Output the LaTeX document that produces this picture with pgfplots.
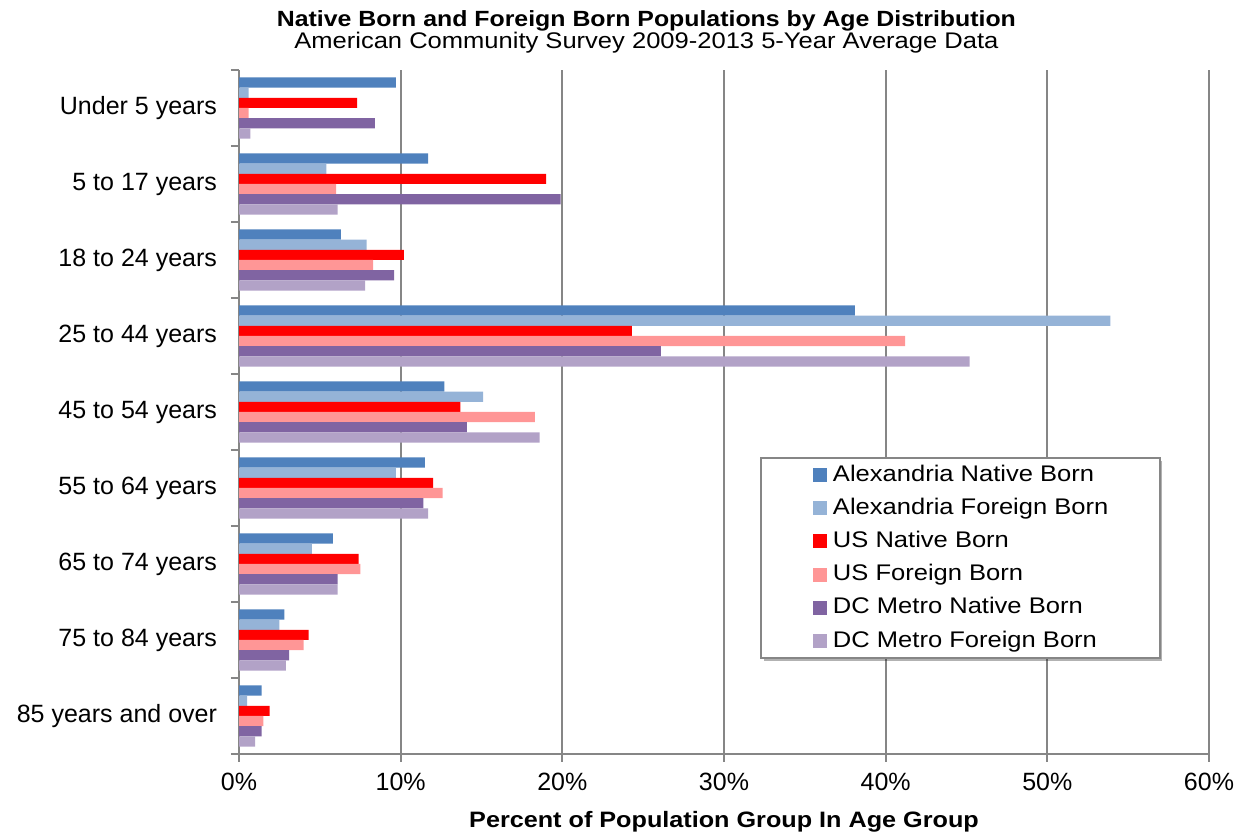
\documentclass[border=0pt]{standalone}
\usepackage{pgfplots}
\pgfplotsset{compat=1.18}
\usepackage{fontspec}
\setmainfont{Liberation Sans}
\newfontfamily\widefont{Liberation Sans}[FakeStretch=1.13]
\usetikzlibrary{shadows}
\definecolor{an}{RGB}{79,129,189}
\definecolor{af}{RGB}{149,179,215}
\definecolor{un}{RGB}{255,0,0}
\definecolor{uf}{RGB}{255,150,150}
\definecolor{dn}{RGB}{128,100,162}
\definecolor{df}{RGB}{178,162,199}
\definecolor{axgray}{RGB}{134,134,134}
\begin{document}
\begin{tikzpicture}
\pgfplotsset{bstyle/.style={draw=none, fill=#1,
  legend image code/.code={\fill[##1] (0pt,-3.5pt) rectangle (7pt,3.5pt);}}}
\begin{axis}[
  scale only axis, width=485pt, height=342pt,
  xbar, bar width=0.1338,
  xmin=0, xmax=60, ymin=-0.5, ymax=8.5,
  clip=false,
  axis x line*=bottom, axis y line*=left,
  axis line style={axgray, line width=1pt, -},
  xmajorgrids, grid style={axgray, line width=1pt},
  xtick={0,10,...,60},
  xticklabels={0\%,10\%,20\%,30\%,40\%,50\%,60\%},
  ytick={-0.5,0.5,...,8.5},
  y tick label as interval,
  yticklabels={85 years and over,75 to 84 years,65 to 74 years,55 to 64 years,45 to 54 years,25 to 44 years,18 to 24 years,5 to 17 years,Under 5 years},
  tick align=outside,
  major tick length=4pt,
  tick style={axgray, line width=1pt},
  ticklabel style={font=\fontsize{12.5}{15}\selectfont, text=black},
  yticklabel style={xshift=-3.5pt},
  xticklabel style={yshift=-2pt},
  legend cell align=left,
  legend style={at={(0.5371,0.4342)}, anchor=north west,
    draw=axgray, line width=1pt, fill=white,
    inner xsep=26pt, inner ysep=2.5pt, row sep=4.6pt, column sep=3pt,
    nodes={font=\widefont\fontsize{11.3}{14}\selectfont, inner sep=0pt, text height=9pt, text depth=3pt}},
]
\fill[black, opacity=0.3] (rel axis cs:0.5412,0.1360) rectangle (rel axis cs:0.9515,0.4284);
\addplot[bstyle=an, bar shift=0.3345] coordinates {(9.7,8) (11.7,7) (6.3,6) (38.1,5) (12.7,4) (11.5,3) (5.8,2) (2.8,1) (1.4,0)};
\addlegendentry{Alexandria Native Born}
\addplot[bstyle=af, bar shift=0.2007] coordinates {(0.6,8) (5.4,7) (7.9,6) (53.9,5) (15.1,4) (9.7,3) (4.5,2) (2.5,1) (0.5,0)};
\addlegendentry{Alexandria Foreign Born}
\addplot[bstyle=un, bar shift=0.0669] coordinates {(7.3,8) (19.0,7) (10.2,6) (24.3,5) (13.7,4) (12.0,3) (7.4,2) (4.3,1) (1.9,0)};
\addlegendentry{US Native Born}
\addplot[bstyle=uf, bar shift=-0.0669] coordinates {(0.6,8) (6.0,7) (8.3,6) (41.2,5) (18.3,4) (12.6,3) (7.5,2) (4.0,1) (1.5,0)};
\addlegendentry{US Foreign Born}
\addplot[bstyle=dn, bar shift=-0.2007] coordinates {(8.4,8) (19.9,7) (9.6,6) (26.1,5) (14.1,4) (11.4,3) (6.1,2) (3.1,1) (1.4,0)};
\addlegendentry{DC Metro Native Born}
\addplot[bstyle=df, bar shift=-0.3345] coordinates {(0.7,8) (6.1,7) (7.8,6) (45.2,5) (18.6,4) (11.7,3) (6.1,2) (2.9,1) (1.0,0)};
\addlegendentry{DC Metro Foreign Born}
\node[anchor=base, yshift=21.5pt, font=\widefont\bfseries\fontsize{11}{13}\selectfont] at (rel axis cs:0.42,1) {Native Born and Foreign Born Populations by Age Distribution};
\node[anchor=base, yshift=10.5pt, font=\widefont\fontsize{11.3}{13}\selectfont] at (rel axis cs:0.42,1) {American Community Survey 2009-2013 5-Year Average Data};
\node[anchor=base, yshift=-36.5pt, font=\widefont\bfseries\fontsize{11.15}{13}\selectfont] at (rel axis cs:0.5,0) {Percent of Population Group In Age Group};
\coordinate (sw) at (rel axis cs:0,0);
\coordinate (ne) at (rel axis cs:1,1);
\end{axis}
\pgfresetboundingbox
\path[use as bounding box] ([xshift=-119.5pt,yshift=-39pt]sw) rectangle ([xshift=17pt,yshift=35pt]ne);
\end{tikzpicture}
\end{document}
